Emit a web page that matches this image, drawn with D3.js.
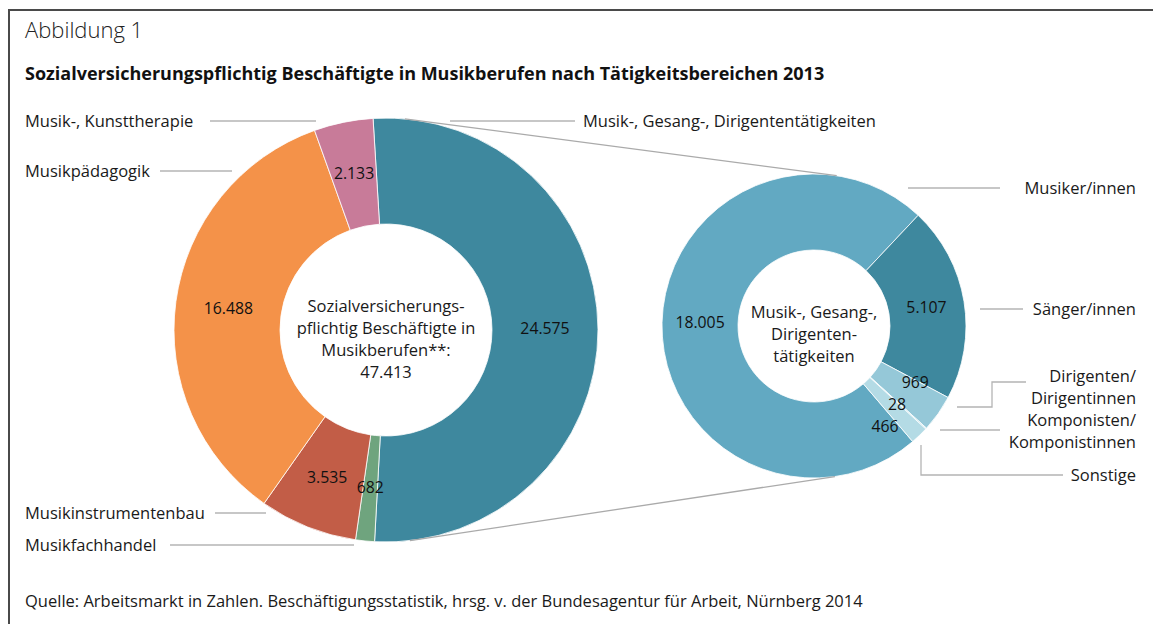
<!DOCTYPE html>
<html>
<head>
<meta charset="utf-8">
<script src="https://cdn.jsdelivr.net/npm/d3@7"></script>
<style>
  body { margin: 0; background: #fff; }
  svg { display: block; font-family: "Open Sans", "Noto Sans", sans-serif; }
  .lbl { font-size: 16.5px; fill: #1a1a1a; }
  .val { font-size: 15.8px; fill: #111; text-anchor: middle; }
  .lead { stroke: #b4b4b4; stroke-width: 1.3; fill: none; }
</style>
</head>
<body>
<svg width="1153" height="624"></svg>
<script>
//data - left donut (all music jobs)
const mainCats = ["Musik-, Gesang-, Dirigententätigkeiten", "Musikfachhandel", "Musikinstrumentenbau", "Musikpädagogik", "Musik-, Kunsttherapie"];
const mainVals = [24575, 682, 3535, 16488, 2133];
const mainColors = ["#3e889e", "#6fa47e", "#c25d47", "#f49249", "#c87b99"];

//data - right donut (breakdown of first category)
const subCats = ["Musiker/innen", "Sänger/innen", "Dirigenten/Dirigentinnen", "Komponisten/Komponistinnen", "Sonstige"];
const subVals = [18005, 5107, 969, 28, 466];
const subColors = ["#62a9c2", "#3e889e", "#95c8d8", "#b4dbe5", "#b4dbe5"];

const fmt = d3.formatLocale({decimal: ",", thousands: ".", grouping: [3]}).format(",d");
const deg = Math.PI / 180;

const svg = d3.select("svg");

//frame
svg.append("line").attr("x1", 9).attr("x2", 1153).attr("y1", 10).attr("y2", 10)
    .style("stroke", "#4a4a4a").style("stroke-width", 2);
svg.append("line").attr("x1", 9).attr("x2", 9).attr("y1", 9).attr("y2", 624)
    .style("stroke", "#4a4a4a").style("stroke-width", 2);

//titles
svg.append("text").attr("x", 25).attr("y", 38)
    .style("font-size", "22px").style("font-weight", 300).style("fill", "#222")
    .text("Abbildung 1");
svg.append("text").attr("x", 25).attr("y", 80)
    .style("font-size", "18px").style("font-weight", "bold").style("fill", "#111")
    .text("Sozialversicherungspflichtig Beschäftigte in Musikberufen nach Tätigkeitsbereichen 2013");
svg.append("text").attr("class", "lbl").attr("x", 25).attr("y", 607)
    .text("Quelle: Arbeitsmarkt in Zahlen. Beschäftigungsstatistik, hrsg. v. der Bundesagentur für Arbeit, Nürnberg 2014");

//donut geometry
const L = {cx: 386, cy: 330, r0: 106, r1: 212, start: -3.5};
const R = {cx: 814, cy: 326, r0: 76, r1: 152, start: 139.5};

function donut(g, vals, colors, geo, nudges) {
    const pie = d3.pie().sort(null)
        .startAngle(geo.start * deg).endAngle(geo.start * deg + 2 * Math.PI);
    const arc = d3.arc().innerRadius(geo.r0).outerRadius(geo.r1);
    const mid = d3.arc().innerRadius((geo.r0 + geo.r1) / 2).outerRadius((geo.r0 + geo.r1) / 2);
    const arcs = pie(vals);
    g.selectAll("path").data(arcs).enter().append("path")
        .attr("d", arc)
        .style("fill", (d, i) => colors[i])
        .style("stroke", "#fff").style("stroke-width", 0.8);
    g.selectAll(".val").data(arcs).enter().append("text")
        .attr("class", "val")
        .attr("transform", (d, i) => {
            const c = mid.centroid(d), n = nudges[i] || [0, 0];
            return "translate(" + (c[0] + n[0]) + "," + (c[1] + n[1] + 5) + ")";
        })
        .text(d => fmt(d.data));
    return arcs;
}

const gL = svg.append("g").attr("transform", "translate(" + L.cx + "," + L.cy + ")");
donut(gL, mainVals, mainColors, L, []);
const gR = svg.append("g").attr("transform", "translate(" + R.cx + "," + R.cy + ")");
donut(gR, subVals, subColors, R, [[0, 0], [0, 0], [8, -9], [-1, 2], [-8, 19]]);

//centre texts
function centre(g, lines, y0) {
    g.append("text").attr("class", "lbl").style("text-anchor", "middle")
        .selectAll("tspan").data(lines).enter().append("tspan")
        .attr("x", 0).attr("y", (d, i) => y0 + i * 22)
        .text(d => d);
}
centre(gL, ["Sozialversicherungs-", "pflichtig Beschäftigte in", "Musikberufen**:", fmt(d3.sum(mainVals))], -18);
centre(gR, ["Musik-, Gesang-,", "Dirigenten-", "tätigkeiten"], -8);

//connector lines between the donuts
function onCircle(geo, a) {
    return [geo.cx + geo.r1 * Math.sin(a * deg), geo.cy - geo.r1 * Math.cos(a * deg)];
}
[[5.1, 8.6], [173.5, 172.1]].forEach(p => {
    const a = onCircle(L, p[0]), b = onCircle(R, p[1]);
    svg.append("line").attr("x1", a[0]).attr("y1", a[1]).attr("x2", b[0]).attr("y2", b[1])
        .style("stroke", "#aaa").style("stroke-width", 1.3);
});

//left labels
const leftLabels = [
    {i: 4, y: 121, x1: 210, x2: 316},
    {i: 3, y: 171, x1: 160, x2: 232},
    {i: 2, y: 513, x1: 215, x2: 266},
    {i: 1, y: 545, x1: 170, x2: 354}
];
leftLabels.forEach(d => {
    svg.append("text").attr("class", "lbl").attr("x", 25).attr("y", d.y + 6).text(mainCats[d.i]);
    svg.append("line").attr("class", "lead").attr("x1", d.x1).attr("x2", d.x2).attr("y1", d.y).attr("y2", d.y);
});
svg.append("text").attr("class", "lbl").attr("x", 583).attr("y", 127).text(mainCats[0]);
svg.append("line").attr("class", "lead").attr("x1", 450).attr("x2", 575).attr("y1", 121).attr("y2", 121);

//right labels
const rightLabels = [
    {i: 0, lines: ["Musiker/innen"], y: 194, pts: [[908, 188], [1000, 188]]},
    {i: 1, lines: ["Sänger/innen"], y: 315, pts: [[980, 309], [1023, 309]]},
    {i: 2, lines: ["Dirigenten/", "Dirigentinnen"], y: 382, pts: [[957, 407], [992, 407], [992, 382], [1026, 382]]},
    {i: 3, lines: ["Komponisten/", "Komponistinnen"], y: 426, pts: [[940, 430], [1000, 430]]},
    {i: 4, lines: ["Sonstige"], y: 481, pts: [[921, 445], [921, 475], [1063, 475]]}
];
rightLabels.forEach(d => {
    svg.append("text").attr("class", "lbl").style("text-anchor", "end")
        .selectAll("tspan").data(d.lines).enter().append("tspan")
        .attr("x", 1136).attr("y", (t, j) => d.y + j * 22).text(t => t);
    svg.append("path").attr("class", "lead").attr("d", d3.line()(d.pts));
});
</script>
</body>
</html>
